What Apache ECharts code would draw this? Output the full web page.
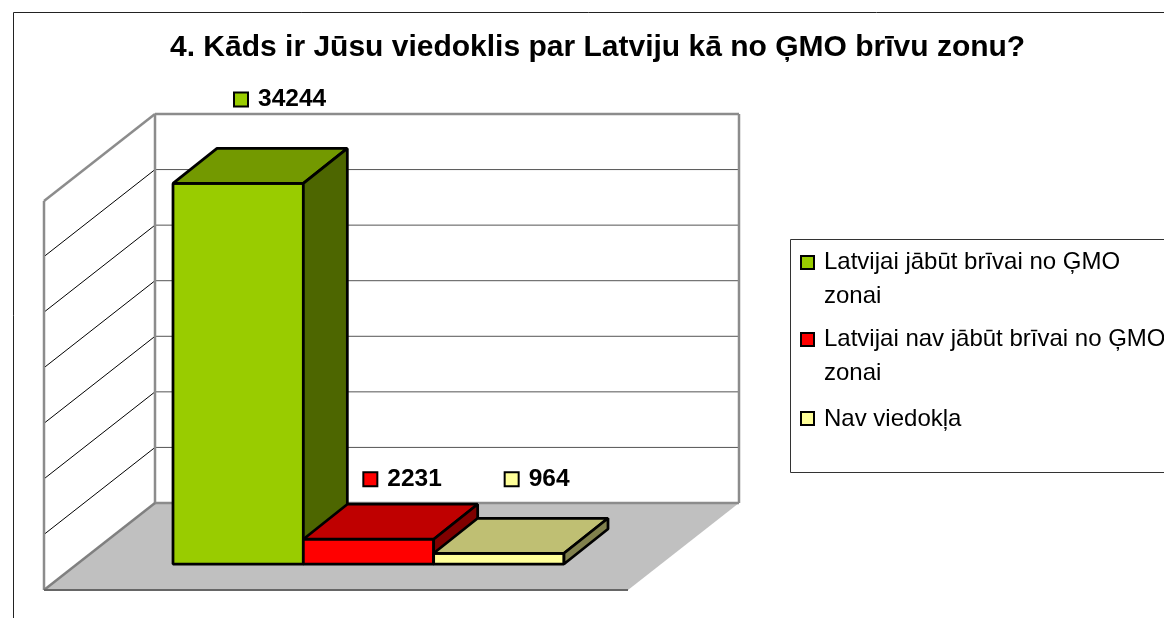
<!DOCTYPE html>
<html><head><meta charset="utf-8">
<style>html,body{margin:0;padding:0;background:#fff}#c{width:1164px;height:618px}</style>
<script src="https://cdn.jsdelivr.net/npm/echarts@6/dist/echarts.min.js"></script>
</head><body><div id="c"></div>
<script>
const titleText = '4. Kāds ir Jūsu viedoklis par Latviju kā no ĢMO brīvu zonu?';
const names = ['Latvijai jābūt brīvai no ĢMO zonai','Latvijai nav jābūt brīvai no ĢMO zonai','Nav viedokļa'];
const values = [34244, 2231, 964];
const frontColors = ['#99CC00','#FF0000','#FFFF99'];
const topColors = ['#739900','#BF0000','#BFBF73'];
const sideColors = ['#4D6600','#800000','#80804D'];
const labelDx = [60,59,70];
const labelDy = [-84,-60,-74];
const axisTicks = [0,5000,10000,15000,20000,25000,30000,35000];

const BAR_D=[44,-35], BACK=[-18,-61], WALL_D=[-111,87], BACK_W=584;
const F='"Liberation Sans",Arial,sans-serif';
const chart = echarts.init(document.getElementById('c'));
const poly=(pts,fill,stroke,lw)=>({type:'polygon',shape:{points:pts},style:{fill:fill,stroke:stroke,lineWidth:lw,lineJoin:'bevel'}});
const seg=(a,b,c,w)=>({type:'line',shape:{x1:a[0],y1:a[1],x2:b[0],y2:b[1]},style:{stroke:c,lineWidth:w,fill:null}});

function renderWall(params,api){
  const base=api.coord([0,0]), left=base[0]-api.size([1,0])[0]/2+BACK[0];
  const yOf=v=>api.coord([0,v])[1]+BACK[1];
  const r=left+BACK_W, b=yOf(axisTicks[0]), t=yOf(axisTicks[axisTicks.length-1]);
  const kids=[];
  kids.push(poly([[left,b],[r,b],[r+WALL_D[0],b+WALL_D[1]],[left+WALL_D[0],b+WALL_D[1]]],'#C0C0C0',null,0));
  axisTicks.slice(1,-1).forEach(v=>{
    const y=yOf(v);
    kids.push(seg([left,y],[r,y],'#555',1));
    kids.push(seg([left,y],[left+WALL_D[0],y+WALL_D[1]],'#000',1));
  });
  const g='#8C8C8C';
  kids.push(seg([left,t],[r,t],g,2.5),seg([r,t],[r,b],g,2.5),seg([left,t],[left,b],g,2.5),seg([left,b],[r,b],g,2.5));
  kids.push(seg([left,t],[left+WALL_D[0],t+WALL_D[1]],g,2.5),seg([left+WALL_D[0],t+WALL_D[1]],[left+WALL_D[0],b+WALL_D[1]],g,2.5));
  kids.push(seg([left,b],[left+WALL_D[0],b+WALL_D[1]],'#808080',2.5));
  kids.push(seg([left+WALL_D[0],b+WALL_D[1]],[r+WALL_D[0],b+WALL_D[1]],'#666',2));
  return {type:'group',children:kids};
}
function renderBar(idx){
  return function(params,api){
    const w=api.size([1,0])[0];
    const p=api.coord([api.value(0),api.value(1)]), o=api.coord([api.value(0),0]);
    const l=p[0]-w/2, r=p[0]+w/2, t=p[1], b=o[1];
    const dx=BAR_D[0], dy=BAR_D[1], lw=2.75;
    const lx=l+labelDx[idx], ly=t+labelDy[idx];
    return {type:'group',children:[
      poly([[l,t],[r,t],[r,b],[l,b]],frontColors[idx],'#000',lw),
      poly([[l,t],[l+dx,t+dy],[r+dx,t+dy],[r,t]],topColors[idx],'#000',lw),
      poly([[r,t],[r+dx,t+dy],[r+dx,b+dy],[r,b]],sideColors[idx],'#000',lw),
      {type:'rect',shape:{x:lx+1,y:ly-7,width:14,height:14},style:{fill:frontColors[idx],stroke:'#000',lineWidth:2}},
      {type:'text',x:lx+25,y:ly,style:{text:String(api.value(1)),font:'bold 24.5px '+F,fill:'#000',verticalAlign:'middle'}}
    ]};
  };
}
const legendText={color:'#000',fontSize:24,fontFamily:F,lineHeight:34};
const wrap=n=>n.replace(' zonai','\nzonai');
const option={
  animation:false,
  backgroundColor:'#fff',
  title:{text:titleText,left:170,top:33,padding:0,textStyle:{fontFamily:F,fontWeight:'bold',fontSize:30,color:'#000'}},
  grid:{left:173,width:391,top:175,height:389},
  xAxis:{type:'category',data:names,show:false},
  yAxis:{type:'value',min:0,max:35000,interval:5000,show:false},
  legend:[
   {left:800,top:244,orient:'vertical',padding:0,itemGap:7,itemWidth:18,itemHeight:68,itemStyle:{borderColor:'#000',borderWidth:2},
    icon:'path://M0 0M18 68M0 11H13V24H0Z',data:names.slice(0,2),formatter:wrap,textStyle:legendText,selectedMode:false},
   {left:800,top:401,orient:'vertical',padding:0,itemWidth:18,itemHeight:34,itemStyle:{borderColor:'#000',borderWidth:2},
    icon:'path://M0 0M18 34M0 10H13V23H0Z',data:names.slice(2),textStyle:legendText,selectedMode:false}
  ],
  graphic:[
    {type:'polyline',silent:true,shape:{points:[[13.5,618],[13.5,12.5],[1164,12.5]]},style:{stroke:'#222',lineWidth:1,fill:null},z:-1},
    {type:'polyline',silent:true,shape:{points:[[1164,239.5],[790.5,239.5],[790.5,472.5],[1164,472.5]]},style:{stroke:'#333',lineWidth:1,fill:null},z:-1}
  ],
  series:[
    {type:'custom',name:'walls',renderItem:renderWall,data:[[names[0],0]],encode:{x:0,y:1},clip:false,silent:true,z:1},
    ...names.map((n,i)=>({type:'custom',name:n,renderItem:renderBar(i),data:[[n,values[i]]],encode:{x:0,y:1},clip:false,silent:true,z:2+i,itemStyle:{color:frontColors[i]}}))
  ]
};
chart.setOption(option);
</script></body></html>
